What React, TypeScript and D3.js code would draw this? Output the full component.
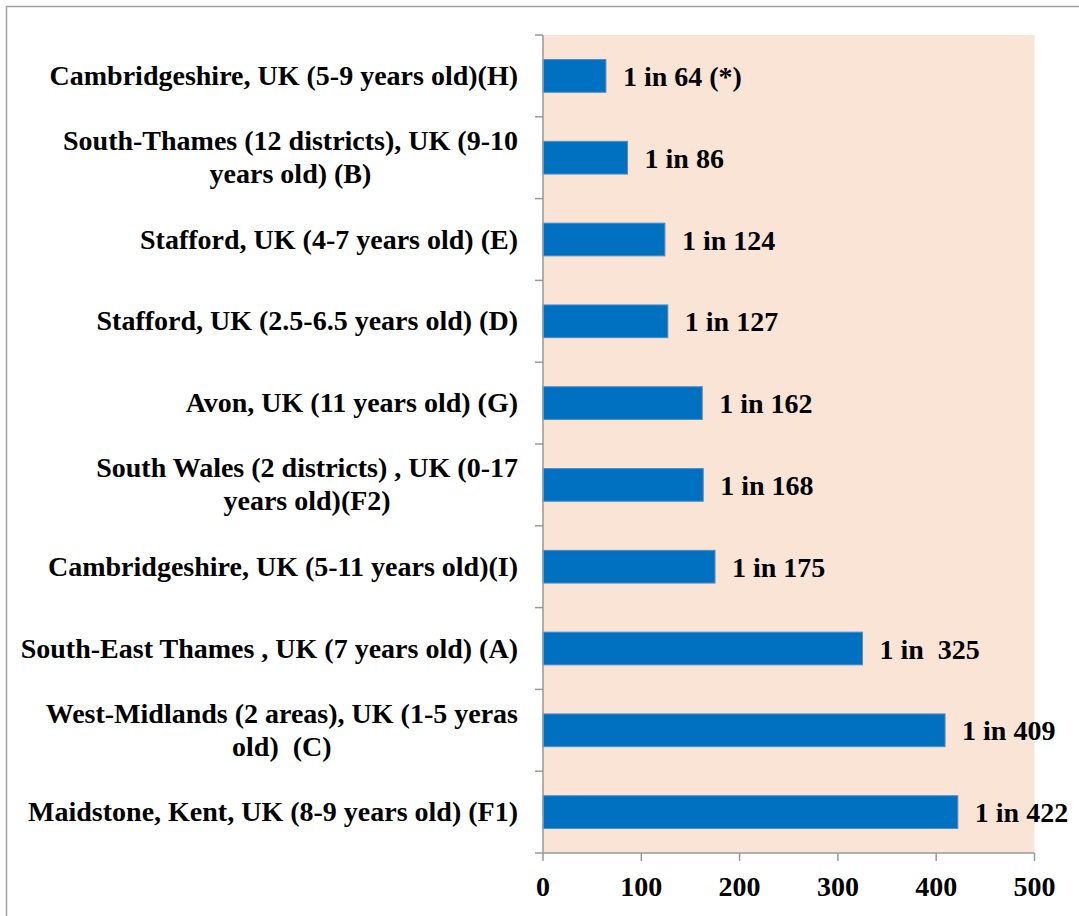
import React, { useEffect, useRef } from "react";
import * as d3 from "d3";

const categories: string[][] = [
  ["Cambridgeshire, UK (5-9 years old)(H)"],
  ["South-Thames (12 districts), UK (9-10", "years old) (B)"],
  ["Stafford, UK (4-7 years old) (E)"],
  ["Stafford, UK (2.5-6.5 years old) (D)"],
  ["Avon, UK (11 years old) (G)"],
  ["South Wales (2 districts) , UK (0-17", "years old)(F2)"],
  ["Cambridgeshire, UK (5-11 years old)(I)"],
  ["South-East Thames , UK (7 years old) (A)"],
  ["West-Midlands (2 areas), UK (1-5 yeras", "old)  (C)"],
  ["Maidstone, Kent, UK (8-9 years old) (F1)"],
];
// bar lengths as drawn in the picture (the "1 in 168" bar is drawn at ~163)
const values: number[] = [64, 86, 124, 127, 162, 163, 175, 325, 409, 422];
const valueLabels: string[] = [
  "1 in 64 (*)", "1 in 86", "1 in 124", "1 in 127", "1 in 162",
  "1 in 168", "1 in 175", "1 in  325", "1 in 409", "1 in 422",
];
const xTicks: number[] = [0, 100, 200, 300, 400, 500];

const W = 1079;
const H = 916;
const FONT = "'Liberation Serif', serif";
const FS = 28;

export default function App() {
  const ref = useRef<SVGSVGElement | null>(null);

  useEffect(() => {
    const svg = d3.select(ref.current);
    svg.selectAll("*").remove();

    const left = 543, right = 1034.5, top = 35, bottom = 853;
    const x = d3.scaleLinear().domain([0, 500]).range([left, right]);
    const y = d3.scaleBand<number>().domain(d3.range(values.length)).range([top, bottom]).paddingInner(0.6).paddingOuter(0.3);
    const band = (bottom - top) / values.length;

    // outer border
    svg.append("rect").attr("x", 6.5).attr("y", 6.5).attr("width", W + 20).attr("height", H + 20)
      .attr("fill", "#fff").attr("stroke", "#A0A0A0").attr("stroke-width", 1.5);

    // plot background
    svg.append("rect").attr("x", left).attr("y", top).attr("width", right - left).attr("height", bottom - top)
      .attr("fill", "#FAE4D6");

    // bars
    svg.append("g").selectAll("rect").data(values).join("rect")
      .attr("x", x(0)).attr("y", (_, i) => y(i)!)
      .attr("width", (d) => x(d) - x(0)).attr("height", y.bandwidth())
      .attr("fill", "#0070C0").attr("stroke", "#4A8FD0").attr("stroke-width", 1);

    // axes lines
    const axisColor = "#9A9A9A";
    svg.append("line").attr("x1", left).attr("x2", left).attr("y1", top).attr("y2", bottom)
      .attr("stroke", axisColor).attr("stroke-width", 1.5);
    svg.append("line").attr("x1", left).attr("x2", right).attr("y1", bottom).attr("y2", bottom)
      .attr("stroke", axisColor).attr("stroke-width", 1.5);
    // y ticks
    d3.range(values.length + 1).forEach((i) => {
      const yy = top + i * band;
      svg.append("line").attr("x1", left - 8).attr("x2", left).attr("y1", yy).attr("y2", yy)
        .attr("stroke", axisColor).attr("stroke-width", 1.5);
    });
    // x ticks
    const xg = svg.append("g");
    xTicks.forEach((t) => {
      xg.append("line").attr("x1", x(t)).attr("x2", x(t)).attr("y1", bottom).attr("y2", bottom + 8)
        .attr("stroke", axisColor).attr("stroke-width", 1.5);
      xg.append("text").attr("x", x(t)).attr("y", bottom + 43).attr("text-anchor", "middle")
        .attr("font-family", FONT).attr("font-weight", "bold").attr("font-size", FS).attr("fill", "#000")
        .text(String(t));
    });

    // category labels
    const labelRight = 518;
    const lineH = 33;
    categories.forEach((lines, i) => {
      const cy = top + (i + 0.5) * band;
      const g = svg.append("g");
      const n = lines.length;
      const texts = lines.map((ln, j) =>
        g.append("text")
          .attr("y", cy + 9 + (j - (n - 1) / 2) * lineH)
          .attr("font-family", FONT).attr("font-weight", "bold").attr("font-size", FS).attr("fill", "#000")
          .style("white-space", "pre")
          .text(ln)
      );
      const widths = texts.map((t) => (t.node() as SVGTextElement).getComputedTextLength());
      const maxW = Math.max(...widths);
      const cx = labelRight - maxW / 2;
      texts.forEach((t) => t.attr("x", cx).attr("text-anchor", "middle"));
    });

    // value labels
    svg.append("g").selectAll("text").data(values).join("text")
      .attr("x", (d) => x(d) + 17).attr("y", (_, i) => top + (i + 0.5) * band + 10)
      .attr("font-family", FONT).attr("font-weight", "bold").attr("font-size", FS).attr("fill", "#000")
      .style("white-space", "pre")
      .text((_, i) => valueLabels[i]);
  }, []);

  return (
    <svg ref={ref} width={W} height={H} style={{ display: "block", position: "absolute", left: 0, top: 0 }} />
  );
}
